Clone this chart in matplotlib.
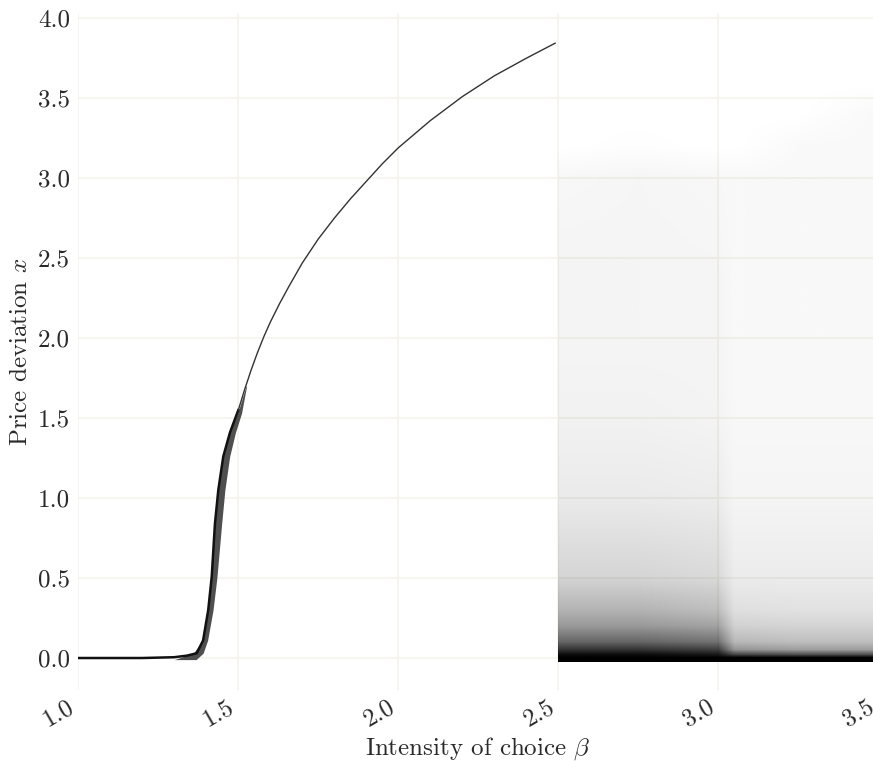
import numpy as np
import matplotlib
matplotlib.use('Agg')
import matplotlib.pyplot as plt
from matplotlib.colors import LinearSegmentedColormap
from matplotlib.image import NonUniformImage
from matplotlib.patches import Rectangle

plt.rcParams['font.family'] = 'serif'
plt.rcParams['font.serif'] = ['cmr10']
plt.rcParams['mathtext.fontset'] = 'cm'
plt.rcParams['axes.unicode_minus'] = False
plt.rcParams['axes.formatter.use_mathtext'] = True

# stable branch (dark edge of the attractor)
beta_curve = [1.0, 1.2, 1.3, 1.34, 1.37, 1.39, 1.406, 1.417, 1.427, 1.4375,
              1.453, 1.474, 1.5, 1.52, 1.54, 1.56, 1.58, 1.6, 1.63, 1.66,
              1.7, 1.75, 1.8, 1.85, 1.9, 1.95, 2.0, 2.1, 2.2, 2.3, 2.4, 2.49]
x_curve = [0.0, 0.0, 0.005, 0.015, 0.03, 0.11, 0.30, 0.51, 0.84, 1.05,
           1.26, 1.41, 1.55, 1.68, 1.80, 1.91, 2.01, 2.10, 2.22, 2.33,
           2.47, 2.62, 2.75, 2.87, 2.98, 3.09, 3.19, 3.36, 3.51, 3.64, 3.75, 3.844]

# smeared band around the onset of the upswing
band_x = [-0.01, 0.03, 0.11, 0.30, 0.50, 0.84, 1.05, 1.26, 1.41, 1.53, 1.70]
band_left = [1.30, 1.36, 1.388, 1.403, 1.415, 1.426, 1.436, 1.452, 1.472, 1.498, 1.524]
band_right = [1.368, 1.39, 1.404, 1.421, 1.433, 1.448, 1.458, 1.473, 1.491, 1.51, 1.526]

# chaotic region: point density (0 = empty, 1 = black) on a coarse grid
chaos_beta = [2.5, 2.75, 3.0, 3.05, 3.25, 3.5]
chaos_x = [-0.02, 0.0, 0.02, 0.05, 0.1, 0.2, 0.3, 0.5, 1.0, 1.5, 2.0, 2.5,
           3.0, 3.2, 3.4, 3.6]
chaos_density = [
    [1.0, 1.0, 1.0, 1.0, 1.0, 1.0],
    [1.0, 1.0, 1.0, 1.0, 1.0, 1.0],
    [0.95, 0.95, 0.9, 0.72, 0.68, 0.68],
    [0.8, 0.8, 0.75, 0.42, 0.38, 0.38],
    [0.6, 0.6, 0.55, 0.28, 0.26, 0.26],
    [0.4, 0.4, 0.36, 0.18, 0.17, 0.17],
    [0.3, 0.3, 0.26, 0.13, 0.12, 0.12],
    [0.17, 0.17, 0.15, 0.08, 0.08, 0.08],
    [0.085, 0.085, 0.075, 0.045, 0.045, 0.045],
    [0.055, 0.055, 0.05, 0.035, 0.035, 0.035],
    [0.045, 0.045, 0.045, 0.03, 0.03, 0.03],
    [0.045, 0.045, 0.04, 0.03, 0.03, 0.03],
    [0.035, 0.04, 0.035, 0.03, 0.03, 0.03],
    [0.0, 0.01, 0.0, 0.0, 0.025, 0.03],
    [0.0, 0.0, 0.0, 0.0, 0.0, 0.028],
    [0.0, 0.0, 0.0, 0.0, 0.0, 0.0],
]

xticks = [1.0, 1.5, 2.0, 2.5, 3.0, 3.5]
yticks = [0.0, 0.5, 1.0, 1.5, 2.0, 2.5, 3.0, 3.5, 4.0]

fig = plt.figure(figsize=(8.73, 7.61), dpi=100)
ax = fig.add_axes([78.3 / 873, 71 / 761, 800 / 873, 676.7 / 761])

ax.fill_betweenx(band_x, band_left, band_right, color='#3c3c3c', alpha=0.9,
                 lw=0, zorder=2)
n_low = beta_curve.index(1.5) + 1
ax.plot(beta_curve[:n_low], x_curve[:n_low], color='#111111', lw=1.8, zorder=3)
ax.plot(beta_curve[n_low - 1:], x_curve[n_low - 1:], color='#333333', lw=1.0,
        zorder=3)

alpha_black = LinearSegmentedColormap.from_list(
    'alpha_black', [(0, 0, 0, 0), (0, 0, 0, 1)])
im = NonUniformImage(ax, interpolation='bilinear', cmap=alpha_black,
                     extent=(chaos_beta[0], chaos_beta[-1], chaos_x[0], chaos_x[-1]))
im.set_data(chaos_beta, chaos_x, np.array(chaos_density))
im.set_clim(0, 1)
im.set_zorder(2)
ax.add_image(im)
im.set_clip_path(Rectangle((chaos_beta[0], chaos_x[0]),
                           chaos_beta[-1] - chaos_beta[0],
                           chaos_x[-1] - chaos_x[0],
                           transform=ax.transData))

ax.set_xlim(1.0, 3.5)
ax.set_ylim(-0.2, 4.031)
ax.set_xticks(xticks)
ax.set_yticks(yticks)
ax.set_xticklabels([f'{t:.1f}' for t in xticks], rotation=30, ha='right')
ax.set_yticklabels([f'{t:.1f}' for t in yticks])
ax.tick_params(length=0, labelsize=18, colors='#2a2a2a', pad=6)
ax.tick_params(axis='x', pad=4)
for s in ax.spines.values():
    s.set_visible(False)
ax.grid(True, color='#f5f5ec', lw=1.2)
ax.set_axisbelow(True)

ax.set_xlabel(r'Intensity of choice $\beta$', fontsize=18, color='#2a2a2a',
              labelpad=3)
ax.set_ylabel(r'Price deviation $x$', fontsize=18, color='#2a2a2a')

fig.savefig('out.png', dpi=100)
